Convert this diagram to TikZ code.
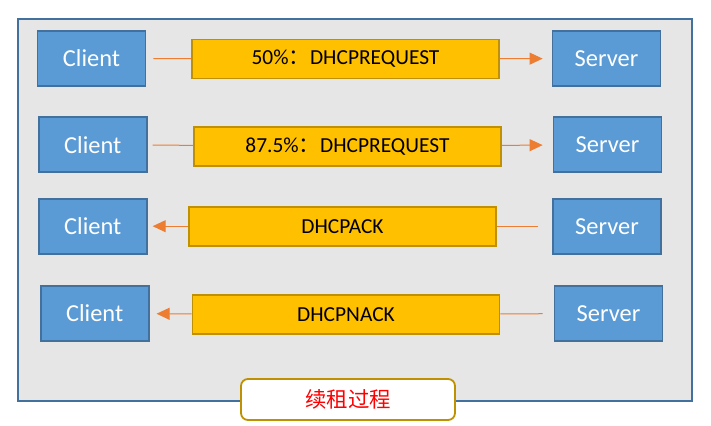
\documentclass[tikz,border=0pt]{standalone}
\usepackage{fontspec}
\setmainfont{Carlito}
\newfontfamily\cjk{Noto Sans CJK SC}
\usetikzlibrary{arrows.meta}
\definecolor{boxblue}{HTML}{5B9BD5}
\definecolor{edgeblue}{HTML}{41719C}
\definecolor{msgyellow}{HTML}{FFC000}
\definecolor{edgegold}{HTML}{BF9000}
\definecolor{wireorange}{HTML}{ED7D31}
\definecolor{paneggray}{HTML}{E6E6E6}

\begin{document}
\begin{tikzpicture}[x=1bp,y=-1bp,
  host/.style={draw=edgeblue,fill=boxblue,line width=1.8bp,minimum width=108bp,minimum height=55bp,
    text=white,font=\fontsize{24.5}{28}\selectfont,inner sep=0pt},
  msg/.style={draw=edgegold,fill=msgyellow,line width=1.6bp,minimum width=307bp,minimum height=39bp,
    font=\fontsize{21.5}{25}\selectfont,inner sep=0pt},
  wire/.style={draw=wireorange,line width=1bp},
  push/.style={wire,-{Triangle[length=13bp,width=12bp]}}]
\useasboundingbox (0,0) rectangle (711,425);
% panel
\draw [edgeblue,fill=paneggray,line width=1.5bp] (18,19) rectangle (692,401);
% renewal at 50%
\node [host] (c1) at (91.5,58.5) {Client};
\node [msg] (m1) at (345.5,59) {50\%{\cjk ：}DHCPREQUEST};
\node [host] (s1) at (606.5,58.5) {Server};
\draw [wire,shorten <=7bp] (c1) -- (m1);
\draw [push,shorten >=9bp] (m1) -- (s1);
% rebinding at 87.5%
\node [host] (c2) at (92.8,144.7) {Client};
\node [msg] (m2) at (347.5,146.3) {87.5\%{\cjk ：}DHCPREQUEST};
\node [host] (s2) at (607.5,144.7) {Server};
\draw [wire,shorten <=5bp] (c2) -- (m2);
\draw [push,shorten >=10bp] (m2) -- (s2);
% ack
\node [host] (c3) at (92.8,226.2) {Client};
\node [msg] (m3) at (342.5,226.2) {DHCPACK};
\node [host] (s3) at (607,226.2) {Server};
\draw [wire,shorten <=14bp] (s3) -- (m3);
\draw [push,shorten >=5bp] (m3) -- (c3);
% nack
\node [host] (c4) at (94.7,313.5) {Client};
\node [msg] (m4) at (346,314.4) {DHCPNACK};
\node [host] (s4) at (608.5,313.5) {Server};
\draw [wire,shorten <=11bp] (s4) -- (m4);
\draw [push,shorten >=7bp] (m4) -- (c4);
% caption
\node [draw=edgegold,fill=white,line width=1.8bp,rounded corners=7bp,minimum width=214bp,minimum height=41bp,
  text=red,font=\cjk\fontsize{21.5}{25}\selectfont] (title) at (348,399.5) {续租过程};
\end{tikzpicture}
\end{document}
